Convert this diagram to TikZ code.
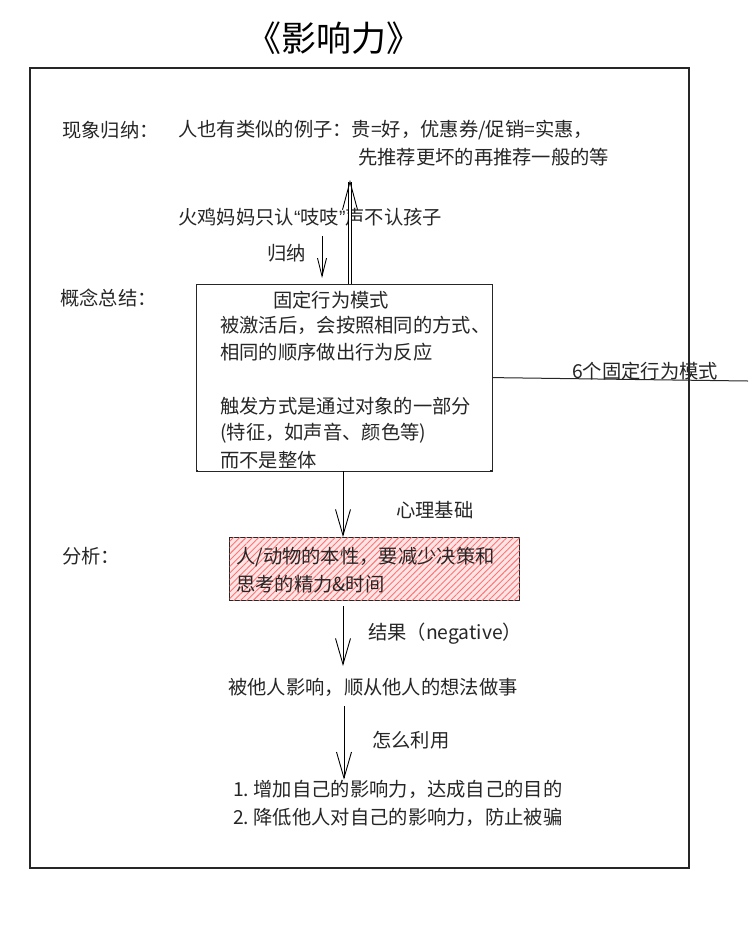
\documentclass[tikz,border=0pt]{standalone}
\usepackage{fontspec}
\setmainfont{Noto Sans CJK SC}
\newfontfamily\latq{Liberation Sans}
\usetikzlibrary{arrows.meta,patterns.meta}
\tikzset{
  txt/.style={font=\fontsize{19.3}{22}\selectfont, inner sep=0pt, anchor=west, text=black!85},
  lbl/.style={txt},
  flowarrow/.style={line width=0.9pt, -{Straight Barb[length=26pt,width=15pt,line width=0.9pt]}},
  framebox/.style={draw=black!85, line width=1.2pt},
}
\begin{document}
\begin{tikzpicture}[x=1pt,y=-1pt]
\useasboundingbox[fill=white] (0,0) rectangle (748,930);
% title
\node[font=\fontsize{35}{38}\selectfont, inner sep=0pt] (title) at (334,38) {《影响力》};
% outer frame
\draw[framebox] (30,68) rectangle (689,868);
% row 1
\node[lbl] (l1) at (62,130) {现象归纳：};
\node[txt] (ex1) at (178,130) {人也有类似的例子：贵=好，优惠券/促销=实惠，};
\node[txt] (ex2) at (358,157) {先推荐更坏的再推荐一般的等};
\node[txt] (turkey) at (178,217) {火鸡妈妈只认{\latq “}吱吱{\latq ”}声不认孩子};
\node[txt] (gn) at (267,253) {归纳};
% concept box
\node[lbl] (l2) at (60,298) {概念总结：};
\node[framebox, minimum width=296pt, minimum height=186pt, anchor=north west, inner sep=0pt] (box) at (196,284) {};
\node[txt, anchor=center] (boxt) at (331,300) {固定行为模式};
\node[txt] (b1) at (220,325) {被激活后，会按照相同的方式、};
\node[txt] (b2) at (220,352) {相同的顺序做出行为反应};
\node[txt] (b3) at (220,406) {触发方式是通过对象的一部分};
\node[txt] (b4) at (220,433) {(特征，如声音、颜色等)};
\node[txt] (b5) at (220,460) {而不是整体};
\fill[white] (198,469.4) rectangle (490,476);
\draw[framebox] (box.south west) -- (box.south east);
% arrows between example and box
\coordinate (upend) at (350,180);
\coordinate (upstart) at (350,284);
\draw[line width=0.8pt, double distance=2.2pt, -{Straight Barb[length=28pt,width=15pt,line width=0.9pt]}] (upstart) -- (upend);
\coordinate (dnstart) at (322,236);
\coordinate (dnend) at (322,278);
\draw[flowarrow, -{Straight Barb[length=18pt,width=9pt,line width=0.9pt]}] (dnstart) -- (dnend);
% six patterns line
\coordinate (sixend) at (748,381);
\draw[line width=1pt, black!85] (box.east) -- (sixend);
\node[txt] (six) at (572,371) {6个固定行为模式};
% analysis
\node[txt] (psy) at (396,510) {心理基础};
\node[lbl] (l3) at (62,556) {分析：};
\node[draw=black!85, line width=1.1pt, minimum width=290pt, minimum height=63pt, anchor=north west, inner sep=0pt,
  fill=red!10, postaction={pattern={Lines[angle=45,distance=4.5pt,line width=0.9pt]}, pattern color=red!40!pink}] (nature) at (229,537) {};
\node[txt] (n1) at (236,557) {人/动物的本性，要减少决策和};
\node[txt] (n2) at (236,584) {思考的精力\&时间};
\draw[flowarrow] (box.south -| 343,0) -- (nature.north -| 343,0);
% result
\node[txt] (res) at (368,634) {结果（negative）};
\node[txt] (infl) at (228,687) {被他人影响，顺从他人的想法做事};
\draw[flowarrow] (nature.south -| 343,0) ++(0,5) -- (343,666);
\node[txt] (use) at (372,740) {怎么利用};
\node[txt] (u1) at (233,789) {1.\ 增加自己的影响力，达成自己的目的};
\node[txt] (u2) at (233,817) {2.\ 降低他人对自己的影响力，防止被骗};
\draw[flowarrow] (infl.south -| 344,0) ++(0,10) -- (u1.north -| 344,0);
\end{tikzpicture}
\end{document}
